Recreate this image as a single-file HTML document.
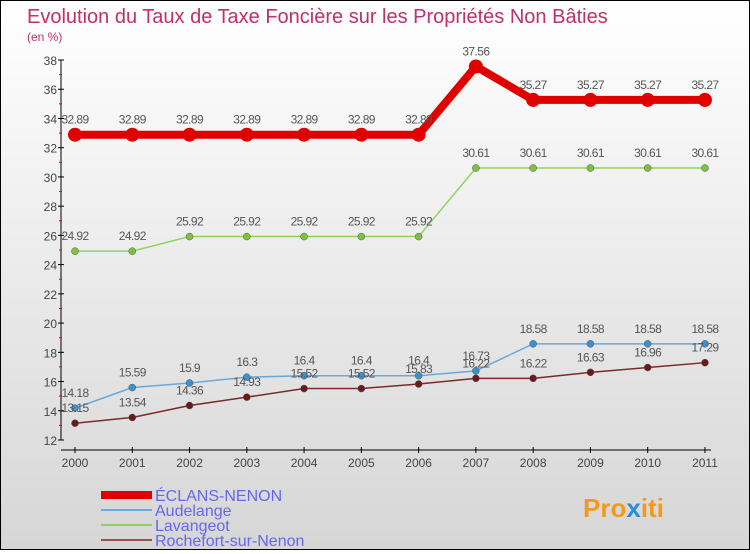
<!DOCTYPE html>
<html><head><meta charset="utf-8"><style>
html,body{margin:0;padding:0}
body{width:750px;height:550px;overflow:hidden;font-family:"Liberation Sans",sans-serif}
#c{position:relative;width:748px;height:548px;border:1px solid #000;background:linear-gradient(#ffffff,#d6d6d6)}
</style></head><body>
<div id="c">
<svg id="s" width="748" height="548" xmlns="http://www.w3.org/2000/svg">
<text x="26" y="22" font-size="20" fill="#c0306a">Evolution du Taux de Taxe Foncière sur les Propriétés Non Bâties</text>
<text x="26" y="40" font-size="12" fill="#c0306a">(en %)</text>
<g id="axes"></g><g id="series"></g><g id="legend"></g>
<text x="582" y="516" font-size="26" font-weight="bold" fill="#f39a1e">Pro<tspan fill="#2a8fd8">x</tspan>iti</text>
</svg></div>
<script>
const years=["2000","2001","2002","2003","2004","2005","2006","2007","2008","2009","2010","2011"];
const yTicks=[12,14,16,18,20,22,24,26,28,30,32,34,36,38];
const eclans=[32.89,32.89,32.89,32.89,32.89,32.89,32.89,37.56,35.27,35.27,35.27,35.27];
const audelange=[14.18,15.59,15.9,16.3,16.4,16.4,16.4,16.73,18.58,18.58,18.58,18.58];
const lavangeot=[24.92,24.92,25.92,25.92,25.92,25.92,25.92,30.61,30.61,30.61,30.61,30.61];
const rochefort=[13.15,13.54,14.36,14.93,15.52,15.52,15.83,16.22,16.22,16.63,16.96,17.29];
const seriesNames=["ÉCLANS-NENON","Audelange","Lavangeot","Rochefort-sur-Nenon"];
const NS="http://www.w3.org/2000/svg";
const X=i=>74+i*57.27, Y=v=>439-(v-12)*14.615;
function mk(p,t,a){const e=document.createElementNS(NS,t);for(const k in a)e.setAttribute(k,a[k]);p.appendChild(e);return e;}
const ax=document.getElementById('axes');
let l=mk(ax,'line',{x1:60,y1:Y(38),x2:60,y2:Y(12),stroke:'#000'});

l=mk(ax,'line',{x1:60,y1:449,x2:710,y2:449,stroke:'#000'});

yTicks.forEach(v=>{mk(ax,'line',{x1:57,x2:63,y1:Y(v),y2:Y(v),stroke:'#000'});
 if(v<38)mk(ax,'line',{x1:58,x2:61,y1:Y(v+1),y2:Y(v+1),stroke:'#e00'});
 const t=mk(ax,'text',{x:56,y:Y(v)+5,'text-anchor':'end','font-size':12,fill:'#444'});t.textContent=v;
 });
years.forEach((y,i)=>{mk(ax,'line',{x1:X(i),x2:X(i),y1:446,y2:452,stroke:'#000'});
 const t=mk(ax,'text',{x:X(i),y:466,'text-anchor':'middle','font-size':12,fill:'#444'});t.textContent=y;
 });
const sg=document.getElementById('series');
const defs=[[eclans,'#e00000',8,7,'eclans'],[lavangeot,'#8ed45a',1.5,3.5,'lavangeot'],[audelange,'#6aa8d8',1.5,3.5,'audelange'],[rochefort,'#7a2a2a',1.5,3.5,'rochefort']];
const pc={'eclans':'#e00000','lavangeot':'#7cc242','audelange':'#3a90d0','rochefort':'#6a1a1a'};
defs.forEach(([d,c,w,r,n])=>{
 const p=mk(sg,'polyline',{points:d.map((v,i)=>X(i)+','+Y(v)).join(' '),fill:'none',stroke:c,'stroke-width':w});
 
 d.forEach((v,i)=>{const ci=mk(sg,'circle',{cx:X(i),cy:Y(v),r:r,fill:pc[n],stroke:n=='eclans'?'none':'#555','stroke-width':0.5});
  
  const t=mk(sg,'text',{x:X(i),y:Y(v)-11,'text-anchor':'middle','font-size':12,fill:'#555','letter-spacing':'-0.6'});t.textContent=v;
  });});
const lg=document.getElementById('legend');
const lc=['#e00000','#6aa8d8','#8ed45a','#9a5050'],lw=[8,2,2,2];
seriesNames.forEach((s,i)=>{const y=494+i*15;
 const ln=mk(lg,'line',{x1:100,x2:151,y1:y,y2:y,stroke:lc[i],'stroke-width':lw[i]});
 
 const t=mk(lg,'text',{x:154,y:y+6,'font-size':16,fill:'#6666ee'});t.textContent=s;
 });
</script></body></html>
